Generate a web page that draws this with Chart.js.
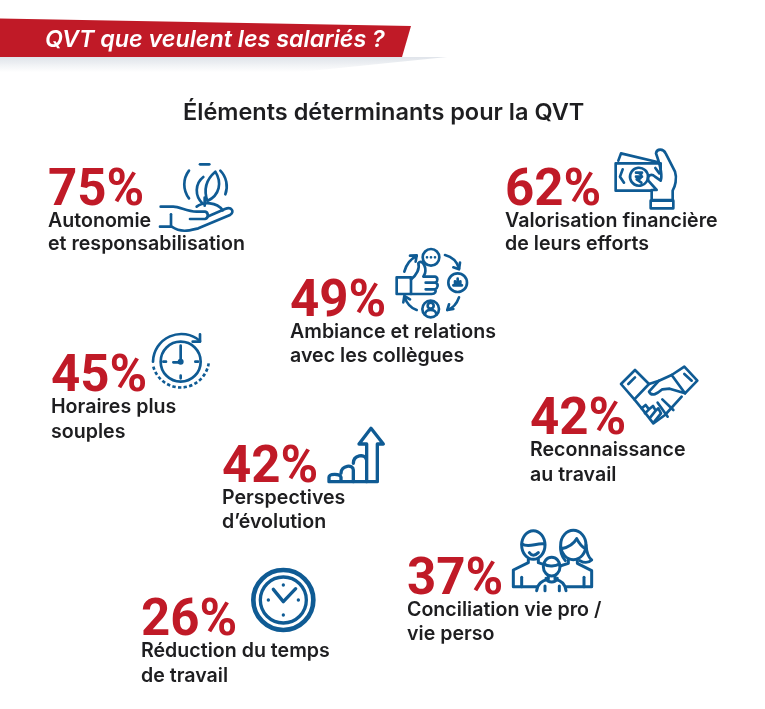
<!DOCTYPE html>
<html lang="fr">
<head>
<meta charset="utf-8">
<title>QVT que veulent les salariés ?</title>
<script src="https://cdn.jsdelivr.net/npm/chart.js@4"></script>
<style>
    html, body { margin: 0; padding: 0; background: #fff; }
    canvas { display: block; }
</style>
</head>
<body>
<canvas id="chart-host" width="765" height="709"></canvas>
<script>
var bannerTitle = "QVT que veulent les salariés ?";
var chartTitle = "Éléments déterminants pour la QVT";
var categories = [
    ["Autonomie", "et responsabilisation"],
    ["Valorisation financière", "de leurs efforts"],
    ["Ambiance et relations", "avec les collègues"],
    ["Horaires plus", "souples"],
    ["Reconnaissance", "au travail"],
    ["Perspectives", "d’évolution"],
    ["Conciliation vie pro /", "vie perso"],
    ["Réduction du temps", "de travail"]
];
var values = [75, 62, 49, 45, 42, 42, 37, 26];

// where each block sits on the page (left edge, baseline of the percentage)
var blockX = [48, 505, 290, 51, 530, 222, 407, 141];
var blockY = [205, 205, 316, 391, 434, 482, 594, 635];
var line2Gap = [23, 23, 24, 25, 25, 24, 24, 25];

var RED = "#c01a27";
var BLUE = "#0f5b94";
var INK = "#1e1e20";

// icons are traced in 3x coordinates, relative to an origin on the page
var icons = [
    { ox: 40, oy: 155, lw: 8, paths: [
        "M480 28H508",
        "M447 47A68 68 0 0 0 447 130", "M541 47A68 68 0 0 1 556 118",
        "M502 138C490 102 500 72 526 50C546 82 540 120 502 138Z", "M490 66C464 86 464 124 488 146",
        "M494 152V128",
        "M470 155C490 140 530 140 548 166",
        "M362 155H400C420 155 440 170 470 170H495C506 172 506 190 495 192H450",
        "M360 215H395C425 235 450 226 475 220L570 180C585 170 575 154 555 162L505 184",
        "M393 178V215"
    ] },
    { ox: 500, oy: 140, lw: 8, paths: [
        "M452 152H347V70H482V98",
        "M355 62L363 40L472 66", "M368 88L360 110L372 128", "M466 84L478 100",
        "M444 110A27 27 0 1 0 425 136A27 27 0 0 0 444 110", "M408 98H426M408 110H426M412 98C428 98 428 118 410 118L424 128",
        "M468 40C470 25 490 25 497 40L525 95C532 115 525 140 518 152V180H455V150H470L445 122C440 105 455 100 465 110L482 122C490 100 475 60 468 40Z",
        "M452 182H520V205H452Z"
    ] },
    { ox: 285, oy: 240, lw: 8, paths: [
        "M463 52A25 25 0 1 1 413 52A25 25 0 1 1 463 52",
        "M426 52V52.1M438 52V52.1M450 52V52.1",
        "M546 128A28 28 0 1 1 490 128A28 28 0 1 1 546 128",
        "M462 207A25 25 0 1 1 412 207A25 25 0 1 1 462 207",
        "M446 197A9 9 0 1 1 428 197A9 9 0 1 1 446 197", "M420 224C420 205 454 205 454 224",
        "M505 136H531M510 136V124M518 136V116M526 136V124",
        "M358 95C365 70 380 55 395 48", "M375 47L395 46L392 65",
        "M480 45C500 50 515 62 522 85", "M505 82L522 88L525 68",
        "M522 172C515 192 505 204 487 210", "M505 207L487 210L492 193",
        "M395 210C378 205 365 190 358 170", "M355 187L358 168L375 178",
        "M335 112H378V162H335Z",
        "M378 118C395 105 405 85 400 70C410 55 425 80 420 100L415 110H450C460 112 458 125 452 128C462 132 458 145 450 148C455 155 450 162 440 162H378",
        "M422 128H452M422 148H450"
    ] },
    { ox: 45, oy: 325, lw: 8, paths: [
        "M467 110A60 60 0 1 1 347 110A60 60 0 1 1 467 110",
        "M407 62V112H385", "M407 152V160M355 110H363M451 110H459",
        "M407 110m-5 0a5 5 0 1 0 10 0a5 5 0 1 0 -10 0",
        "M465 48A85 85 0 0 0 324 110",
        "M465 28V50H443"
    ], dashed: ["M325 125A85 85 0 0 0 491 115"] },
    { ox: 525, oy: 360, lw: 8, paths: [
        "M288 72L330 30L372 72L328 118Z", "M440 45L478 20L517 62L480 100Z",
        "M310 72L330 52M500 62L478 42",
        "M372 72L402 62L440 45", "M402 62L372 95C380 112 398 100 412 88L434 86L480 100",
        "M328 118L350 145L385 190L420 165L470 110",
        "M350 145L362 135L372 148L360 160M372 148L384 138L392 152L376 172M392 152L400 145L408 160L388 185",
        "M412 118L445 150M398 128L428 170"
    ] },
    { ox: 215, oy: 420, lw: 10, paths: [
        "M455 185H342V172C342 160 376 160 378 172V185",
        "M378 160C378 135 415 132 415 150V185",
        "M415 130C415 105 450 100 454 118",
        "M455 185V72H432L468 25L505 72H487V185H455"
    ] },
    { ox: 400, oy: 520, lw: 9, paths: [
        "M435 75A35 43 0 1 1 365 75A35 43 0 1 1 435 75",
        "M366 72C385 85 410 68 434 72", "M388 98C395 108 405 108 415 98",
        "M385 118V128L340 150V200H410", "M415 118V128L432 134", "M365 172V200",
        "M558 75A38 44 0 1 1 482 75A38 44 0 1 1 558 75",
        "M484 86C505 82 522 70 530 56C538 72 548 82 558 88",
        "M558 75C560 100 565 112 575 120C565 130 550 128 540 122", "M482 80C480 100 488 112 496 122",
        "M505 118V130L480 138", "M532 118V130L575 152V200H500", "M552 172V200",
        "M480 140A25 28 0 1 1 430 140A25 28 0 1 1 480 140", "M432 132C445 142 468 138 478 132",
        "M445 168V178C425 182 412 192 410 212", "M465 168V178C485 182 496 192 498 212",
        "M435 212V198M478 212V198", "M438 175C445 190 465 190 472 175"
    ] },
    { ox: 135, oy: 560, lw: 14, paths: [
        "M535 120A90 90 0 1 1 355 120A90 90 0 1 1 535 120"
    ], inner: [
        "M514 120A69 69 0 1 1 376 120A69 69 0 1 1 514 120",
        "M415 88L445 125L482 86",
        "M445 75V75.1M445 165V165.1M400 120H400.1M490 120H490.1"
    ] }
];

function drawIcon(ctx, icon) {
    ctx.save();
    ctx.translate(icon.ox, icon.oy);
    ctx.scale(1 / 3, 1 / 3);
    ctx.strokeStyle = BLUE;
    ctx.lineJoin = "round";
    ctx.lineCap = "round";
    ctx.lineWidth = icon.lw;
    icon.paths.forEach(function (p) { ctx.stroke(new Path2D(p)); });
    if (icon.inner) {
        ctx.lineWidth = 10;
        icon.inner.forEach(function (p) { ctx.stroke(new Path2D(p)); });
    }
    if (icon.dashed) {
        ctx.setLineDash([10, 7]);
        ctx.lineCap = "butt";
        icon.dashed.forEach(function (p) { ctx.stroke(new Path2D(p)); });
    }
    ctx.restore();
}

function drawHeader(ctx) {
    ctx.save();
    // soft shadow under the banner
    var shade = ctx.createLinearGradient(0, 57, 0, 72);
    shade.addColorStop(0, "rgba(150,165,185,0.3)");
    shade.addColorStop(1, "rgba(150,165,185,0)");
    ctx.fillStyle = shade;
    ctx.beginPath();
    ctx.moveTo(0, 57);
    ctx.lineTo(447, 57);
    ctx.lineTo(300, 72);
    ctx.lineTo(0, 72);
    ctx.closePath();
    ctx.fill();

    ctx.fillStyle = RED;
    ctx.beginPath();
    ctx.moveTo(0, 18.5);
    ctx.lineTo(411, 26);
    ctx.lineTo(402, 57);
    ctx.lineTo(0, 57);
    ctx.closePath();
    ctx.fill();

    ctx.textAlign = "left";
    ctx.textBaseline = "alphabetic";
    ctx.fillStyle = "#fff";
    ctx.font = "italic 600 23.3px Inter";
    ctx.fillText(bannerTitle, 45, 47);

    ctx.fillStyle = INK;
    ctx.font = "600 23.5px Inter";
    ctx.fillText(chartTitle, 183, 120);
    ctx.restore();
}

var infographicPlugin = {
    id: "infographic",
    afterDatasetsDraw: function (chart) {
        var ctx = chart.ctx;
        drawHeader(ctx);
        icons.forEach(function (icon) { drawIcon(ctx, icon); });

        var points = chart.getDatasetMeta(0).data;
        ctx.save();
        ctx.textAlign = "left";
        ctx.textBaseline = "alphabetic";
        points.forEach(function (pt, i) {
            ctx.fillStyle = RED;
            ctx.font = "700 51px Roboto";
            ctx.fillText(values[i] + "%", pt.x, pt.y);
            ctx.fillStyle = INK;
            ctx.font = "600 19.6px Inter";
            ctx.fillText(categories[i][0], pt.x, pt.y + 22);
            ctx.fillText(categories[i][1], pt.x, pt.y + 22 + line2Gap[i]);
        });
        ctx.restore();
    }
};

var chart = new Chart(document.getElementById("chart-host"), {
    type: "scatter",
    data: {
        datasets: [{
            label: "Éléments déterminants",
            data: values.map(function (v, i) {
                return { x: blockX[i], y: blockY[i], value: v };
            }),
            pointRadius: 0
        }]
    },
    options: {
        responsive: false,
        animation: false,
        layout: { padding: 0 },
        plugins: { legend: { display: false }, tooltip: { enabled: false } },
        scales: {
            x: { display: false, min: 0, max: 765 },
            y: { display: false, min: 0, max: 709, reverse: true }
        }
    },
    plugins: [infographicPlugin]
});
</script>
</body>
</html>
